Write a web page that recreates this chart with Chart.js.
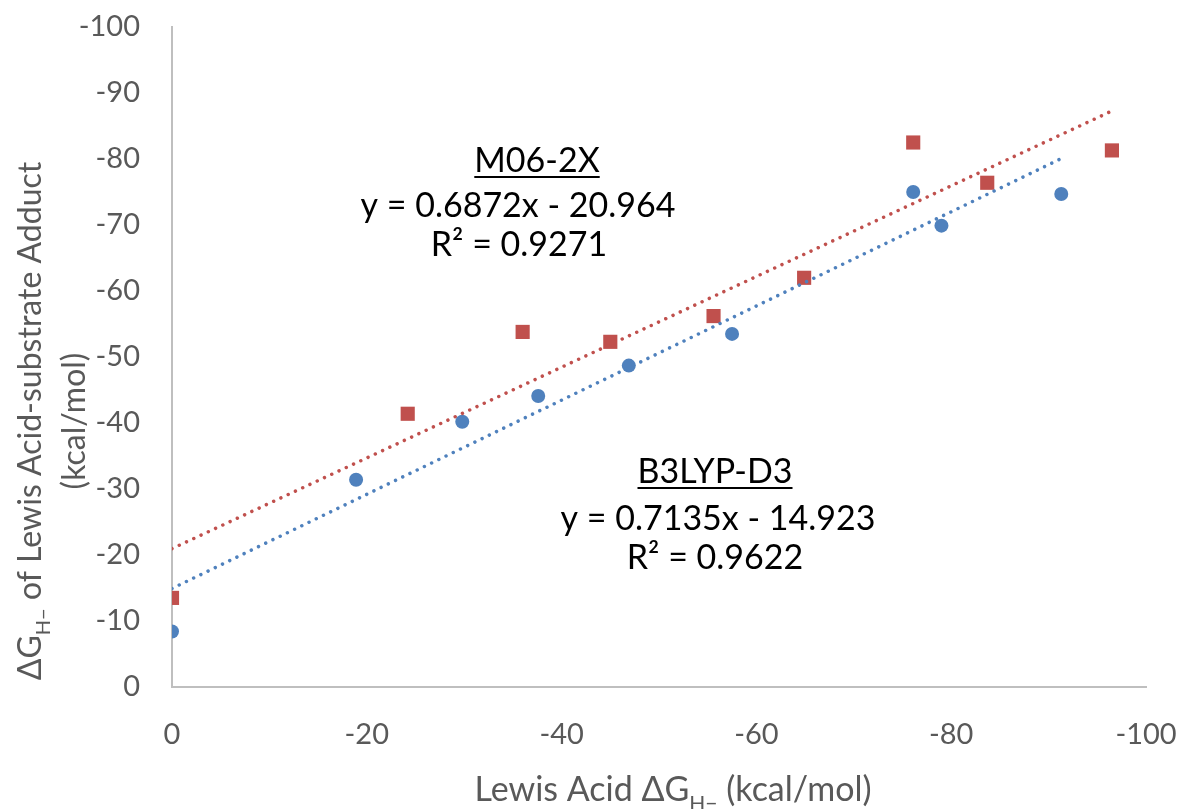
<!DOCTYPE html>
<html>
<head>
<meta charset="utf-8">
<script src="https://cdn.jsdelivr.net/npm/chart.js@4/dist/chart.umd.min.js"></script>
<style>
  body { margin: 0; background: #fff; }
  #wrap { width: 1177px; height: 809px; position: relative; }
</style>
</head>
<body>
<div id="wrap"><canvas id="myChart"></canvas></div>
<script>
// B3LYP-D3 (blue circles)
const b3lypX = [0, -18.9, -29.8, -37.6, -46.9, -57.5, -76.1, -79.0, -91.3];
const b3lypY = [-8.4, -31.4, -40.2, -44.1, -48.7, -53.5, -75.0, -69.9, -74.7];

// M06-2X (red squares)
const m062xX = [0, -24.2, -36.0, -45.0, -55.6, -64.9, -76.1, -83.7, -96.5];
const m062xY = [-13.5, -41.4, -53.8, -52.3, -56.2, -62.0, -82.5, -76.4, -81.3];

// trendline coefficients as printed on the chart
const b3lypFit = { slope: 0.7135, intercept: -14.923, r2: '0.9622' };
const m062xFit = { slope: 0.6872, intercept: -20.964, r2: '0.9271' };

// axis ticks
const xTickValues = [0, -20, -40, -60, -80, -100];
const yTickValues = [0, -10, -20, -30, -40, -50, -60, -70, -80, -90, -100];

const blue = '#4F81BD';
const red = '#C0504D';
const grey = '#595959';
const fontFam = 'Lato, "Open Sans", sans-serif';

function toPoints(xs, ys) {
  return xs.map((x, i) => ({ x: x, y: ys[i] }));
}

function trendPoints(xs, fit) {
  const lo = Math.max(...xs), hi = Math.min(...xs);
  return [lo, hi].map(x => ({ x: x, y: fit.slope * x + fit.intercept }));
}

// draw text with an "H−" subscript part
function drawRich(ctx, parts, x, y, size) {
  const subSize = Math.round(size * 0.62);
  let total = 0;
  parts.forEach(p => {
    ctx.font = (p.sub ? subSize : size) + 'px ' + fontFam;
    p.w = ctx.measureText(p.t).width;
    total += p.w;
  });
  let cx = x - total / 2;
  parts.forEach(p => {
    ctx.font = (p.sub ? subSize : size) + 'px ' + fontFam;
    ctx.fillText(p.t, cx, p.sub ? y + size * 0.28 : y);
    cx += p.w;
  });
}

function drawUnderlined(ctx, text, x, y, size) {
  ctx.font = size + 'px ' + fontFam;
  const w = ctx.measureText(text).width;
  ctx.fillText(text, x - w / 2, y);
  ctx.fillRect(x - w / 2, y + 4, w, 2);
}

function drawCentered(ctx, text, x, y, size) {
  ctx.font = size + 'px ' + fontFam;
  const w = ctx.measureText(text).width;
  ctx.fillText(text, x - w / 2, y);
}

const textPlugin = {
  id: 'textPlugin',
  afterDraw(chart) {
    const ctx = chart.ctx;
    ctx.save();
    ctx.textBaseline = 'alphabetic';
    ctx.textAlign = 'left';

    // equation labels
    ctx.fillStyle = '#000';
    drawUnderlined(ctx, 'M06-2X', 537, 172, 34);
    drawCentered(ctx, 'y = ' + m062xFit.slope + 'x - ' + Math.abs(m062xFit.intercept), 518, 217, 34);
    drawCentered(ctx, 'R² = ' + m062xFit.r2, 519, 256, 34);

    drawUnderlined(ctx, 'B3LYP-D3', 715, 483, 34);
    drawCentered(ctx, 'y = ' + b3lypFit.slope + 'x - ' + Math.abs(b3lypFit.intercept), 718, 530, 34);
    drawCentered(ctx, 'R² = ' + b3lypFit.r2, 715, 569, 34);

    // axis titles
    ctx.fillStyle = grey;
    drawRich(ctx, [{ t: 'Lewis Acid ΔG' }, { t: 'H−', sub: true }, { t: ' (kcal/mol)' }], 673, 801, 34);

    ctx.translate(41, 421);
    ctx.rotate(-Math.PI / 2);
    drawRich(ctx, [{ t: 'ΔG' }, { t: 'H−', sub: true }, { t: ' of Lewis Acid-substrate Adduct' }], 0, 0, 32);
    ctx.restore();

    ctx.save();
    ctx.fillStyle = grey;
    ctx.translate(85, 421);
    ctx.rotate(-Math.PI / 2);
    drawCentered(ctx, '(kcal/mol)', 0, 0, 32);
    ctx.restore();
  }
};

const ctx = document.getElementById('myChart');

new Chart(ctx, {
  type: 'scatter',
  data: {
    datasets: [{
      label: 'B3LYP-D3 fit',
      data: trendPoints(b3lypX, b3lypFit),
      showLine: true,
      borderColor: blue,
      borderWidth: 3.5,
      borderDash: [0.01, 8],
      borderCapStyle: 'round',
      pointRadius: 0,
      order: 0
    }, {
      label: 'M06-2X fit',
      data: trendPoints(m062xX, m062xFit),
      showLine: true,
      borderColor: red,
      borderWidth: 3.5,
      borderDash: [0.01, 8],
      borderCapStyle: 'round',
      pointRadius: 0,
      order: 1
    }, {
      label: 'B3LYP-D3',
      data: toPoints(b3lypX, b3lypY),
      pointStyle: 'circle',
      pointRadius: 7,
      backgroundColor: blue,
      borderColor: blue,
      borderWidth: 0,
      order: 3
    }, {
      label: 'M06-2X',
      data: toPoints(m062xX, m062xY),
      pointStyle: 'rect',
      pointRadius: 10,
      backgroundColor: red,
      borderColor: red,
      borderWidth: 0,
      order: 2
    }]
  },
  options: {
    responsive: true,
    maintainAspectRatio: false,
    animation: false,
    layout: { padding: { top: 27, right: 31, left: 0, bottom: 0 } },
    plugins: {
      legend: { display: false },
      tooltip: { enabled: false }
    },
    scales: {
      x: {
        type: 'linear',
        min: -100,
        max: 0,
        reverse: true,
        afterBuildTicks: s => { s.ticks = xTickValues.map(v => ({ value: v })); },
        afterFit: s => {
          s.height = 122;
          s.paddingLeft = 0;
          s.paddingRight = 0;
        },
        grid: { display: false, drawTicks: false },
        border: { display: true, color: '#BFBFBF', width: 2 },
        ticks: {
          padding: 30,
          color: grey,
          font: { family: fontFam, size: 29 },
          callback: v => String(v)
        }
      },
      y: {
        type: 'linear',
        min: -100,
        max: 0,
        reverse: true,
        afterBuildTicks: s => { s.ticks = yTickValues.map(v => ({ value: v })); },
        afterFit: s => {
          s.width = 172;
          s.paddingTop = 0;
          s.paddingBottom = 0;
        },
        grid: { display: false, drawTicks: false },
        border: { display: true, color: '#BFBFBF', width: 2 },
        ticks: {
          padding: 32,
          color: grey,
          font: { family: fontFam, size: 29 },
          callback: v => String(v)
        }
      }
    }
  },
  plugins: [textPlugin]
});
</script>
</body>
</html>
